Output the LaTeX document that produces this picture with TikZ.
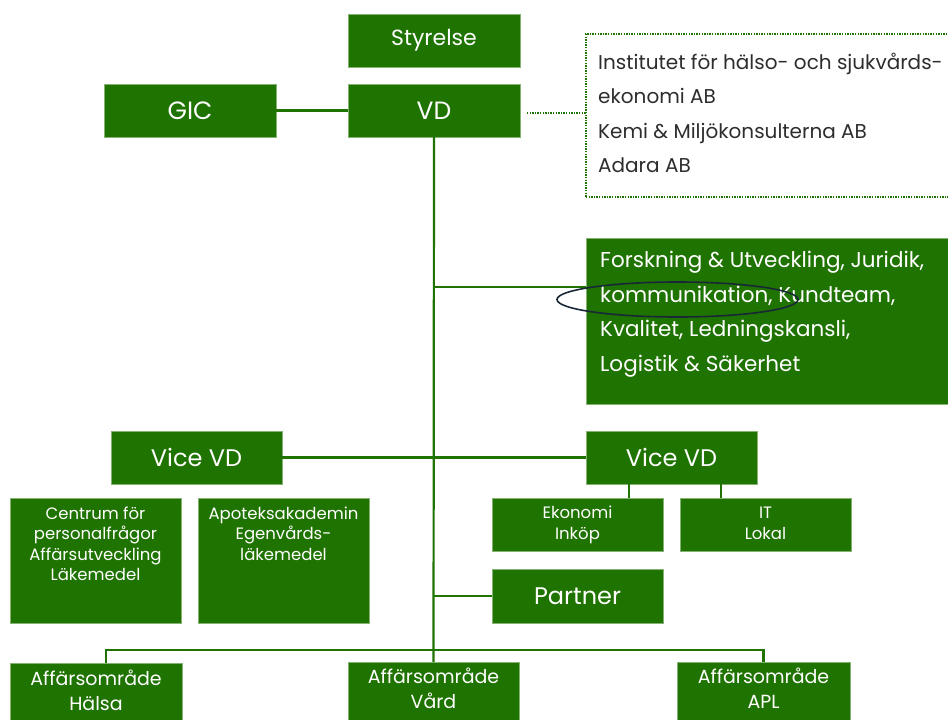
\documentclass[tikz,border=0pt]{standalone}
\usepackage{fontspec}
\setmainfont{Poppins}
\usetikzlibrary{calc}
\definecolor{ggreen}{RGB}{31,115,0}
\definecolor{ellcol}{RGB}{25,40,55}
\definecolor{dtext}{RGB}{45,45,45}
\begin{document}
\begin{tikzpicture}[x=1pt,y=-1pt,
  box/.style={fill=ggreen, draw=ggreen!55!white, line width=0.8pt, inner sep=0pt, outer sep=0pt, text=white, anchor=north west},
  conn/.style={draw=ggreen, line width=2.2pt},
  dotconn/.style={draw=ggreen, line width=2pt, dash pattern=on 1.4pt off 1.2pt},
  wtxt/.style={text=white, inner sep=0pt, align=center, anchor=north},
  stytxt/.style={font=\fontsize{22}{26}\selectfont},
  vdtxt/.style={font=\fontsize{25}{28}\selectfont},
  bigtxt/.style={font=\fontsize{24}{28}\selectfont},
  smalltxt/.style={font=\fontsize{16.5}{20.5}\selectfont},
  midtxt/.style={font=\fontsize{19}{24.5}\selectfont},
  listtxt/.style={inner sep=0pt, anchor=north west, align=left}
]
\useasboundingbox (0,0) rectangle (948,720);
\clip (0,0) rectangle (948,720);

% top boxes
\node[box, minimum width=172, minimum height=53, stytxt] (sty) at (348,14) {Styrelse};
\node[box, minimum width=172, minimum height=53, vdtxt] (gic) at (104,84) {GIC};
\node[box, minimum width=172, minimum height=53, vdtxt] (vd) at (348,84) {VD};

% dotted box
\node[draw=ggreen, line width=2pt, dash pattern=on 1.4pt off 1.2pt, anchor=north west,
      minimum width=380, minimum height=163, inner sep=0pt, outer sep=0pt] (dbox) at (586,34) {};
\node[listtxt, text=dtext, font=\fontsize{20}{34.4}\selectfont] (dtxt) at (598,53)
  {Institutet för hälso- och sjukvårds-\\ekonomi AB\\Kemi \& Miljökonsulterna AB\\Adara AB};

% Forskning box
\node[box, minimum width=380, minimum height=166] (fors) at (586,238) {};
\node[listtxt, text=white, font=\fontsize{21.5}{34.5}\selectfont] (forstxt) at (600,251)
  {Forskning \& Utveckling, Juridik,\\kommunikation, Kundteam,\\Kvalitet, Ledningskansli,\\Logistik \& Säkerhet};

% Vice VD
\node[box, minimum width=171, minimum height=53, bigtxt] (vvl) at (111,431) {Vice VD};
\node[box, minimum width=171, minimum height=53, bigtxt] (vvr) at (586,431) {Vice VD};

% small boxes left
\node[box, minimum width=171, minimum height=125] (cent) at (10,498) {};
\node[wtxt, smalltxt] (centtxt) at ($(cent.north)+(0,8.5)$)
  {Centrum för\\personalfrågor\\Affärsutveckling\\Läkemedel};
\node[box, minimum width=171, minimum height=125] (apo) at (198,498) {};
\node[wtxt, smalltxt] (apotxt) at ($(apo.north)+(0,8.5)$)
  {Apoteksakademin\\Egenvårds-\\läkemedel};

% small boxes right
\node[box, minimum width=171, minimum height=53] (ek) at (492,498) {};
\node[wtxt, smalltxt] (ektxt) at ($(ek.north)+(0,8)$) {Ekonomi\\Inköp};
\node[box, minimum width=171, minimum height=53] (it) at (680,498) {};
\node[wtxt, smalltxt] (ittxt) at ($(it.north)+(0,9)$) {IT\\Lokal};

% Partner
\node[box, minimum width=171, minimum height=54, bigtxt] (part) at (492,569) {Partner};

% bottom boxes
\node[box, minimum width=172, minimum height=80] (hal) at (10,663) {};
\node[wtxt, midtxt] (haltxt) at ($(hal.north)+(0,7)$) {Affärsområde\\Hälsa};
\node[box, minimum width=171, minimum height=80] (vard) at (348,662) {};
\node[wtxt, midtxt] (vardtxt) at ($(vard.north)+(0,6)$) {Affärsområde\\Vård};
\node[box, minimum width=173, minimum height=80] (apl) at (677,662) {};
\node[wtxt, midtxt] (apltxt) at ($(apl.north)+(0,6)$) {Affärsområde\\APL};

% connectors
\draw[conn] (gic.east) -- (vd.west);
\draw[conn] (vd.south) -- (vard.north);
\draw[dotconn] ($(vd.east)+(7,2)$) -- ($(dbox.west |- vd.east)+(0,2)$);
\coordinate (fj) at ($(vd.south)+(0,150)$);
\draw[conn] (fj) -- (fj -| fors.west);
\draw[conn] (vvl.east) -- (vvr.west);
\coordinate (e1) at ($(vvr.south west)+(43,0)$);
\draw[conn] (e1) -- (e1 |- ek.north);
\coordinate (e2) at ($(vvr.south west)+(135,0)$);
\draw[conn] (e2) -- (e2 |- it.north);
\draw[conn] (vd.south |- part.west) -- (part.west);
\coordinate (b1) at ($(hal.north west)+(96,-13)$);
\draw[conn] (b1 |- hal.north) -- (b1) -- (b1 -| apl.north) -- (apl.north);

% ellipse highlight
\draw[ellcol, line width=1.6pt] (677.5,299.5) ellipse [x radius=120.5, y radius=17.5];
\end{tikzpicture}
\end{document}
